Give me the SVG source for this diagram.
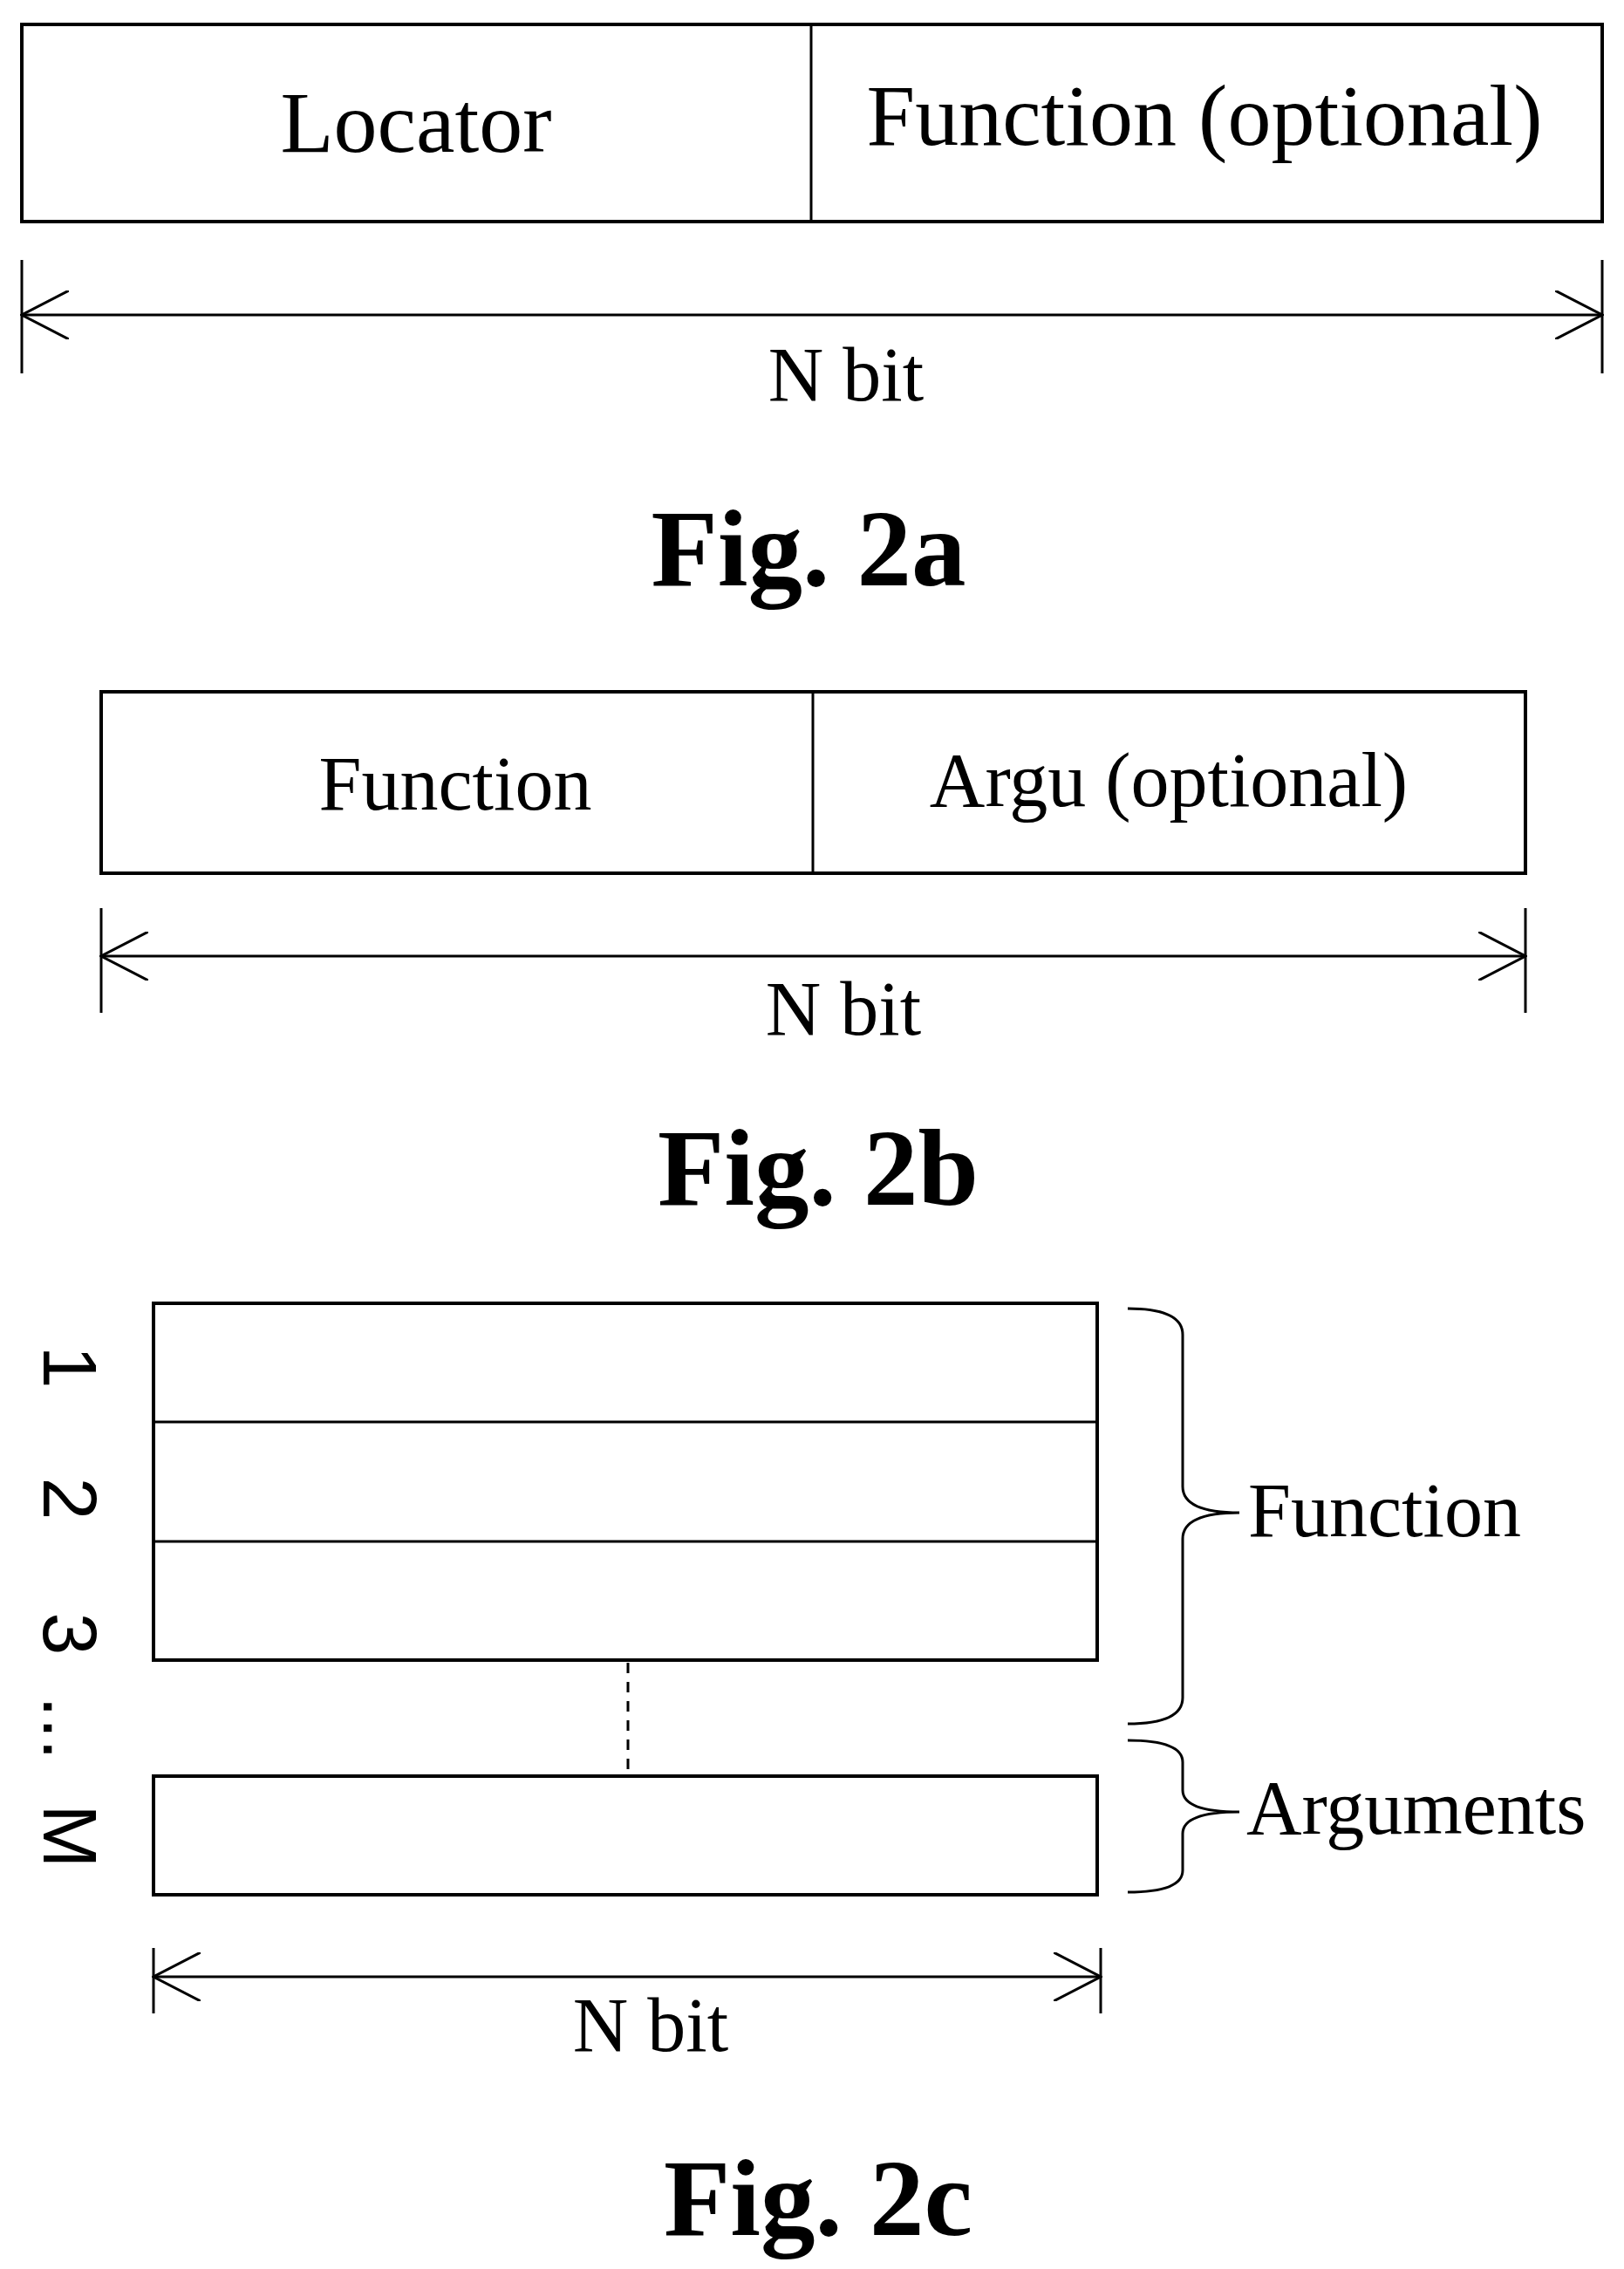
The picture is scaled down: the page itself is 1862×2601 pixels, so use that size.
<svg xmlns="http://www.w3.org/2000/svg" width="1862" height="2601" viewBox="0 0 1862 2601">
<style>
.b{fill:#fff;stroke:#000;stroke-width:4}
.l{stroke:#000;stroke-width:3;fill:none}
.t{font-family:"Liberation Serif",serif;fill:#000}
.s{font-family:"Liberation Sans",sans-serif;fill:#000;font-size:88px}
.f{font-family:"Liberation Serif",serif;font-weight:bold;font-size:125px;text-anchor:middle}
</style>
<defs>
<marker id="a" viewBox="0 0 20 20" refX="19" refY="10" markerWidth="20" markerHeight="20" markerUnits="userSpaceOnUse" orient="auto-start-reverse"><path d="M0,0 L19,10 L0,20" fill="none" stroke="#000" stroke-width="3"/></marker>
<marker id="a2" viewBox="0 0 56 56" refX="54" refY="28" markerWidth="56" markerHeight="56" markerUnits="userSpaceOnUse" orient="auto-start-reverse"><path d="M0,0 L54,28 L0,56" fill="none" stroke="#000" stroke-width="3"/></marker>
</defs>
<g id="fig2a">
<rect class="b" x="25" y="28" width="1812" height="226"/>
<line class="l" x1="930" y1="28" x2="930" y2="254"/>
<text class="t" x="477" y="174" font-size="100" text-anchor="middle">Locator</text>
<text class="t" x="1381" y="166" font-size="100" text-anchor="middle">Function (optional)</text>
<line class="l" x1="25" y1="298" x2="25" y2="428"/>
<line class="l" x1="1837" y1="298" x2="1837" y2="428"/>
<text class="t" x="970" y="459" font-size="88" text-anchor="middle">N bit</text>
<text class="f" x="927" y="671">Fig. 2a</text>
</g>
<g id="fig2b">
<rect class="b" x="116" y="793" width="1633" height="208"/>
<line class="l" x1="932" y1="793" x2="932" y2="1001"/>
<text class="t" x="522" y="928" font-size="88" text-anchor="middle">Function</text>
<text class="t" x="1340" y="924" font-size="88" text-anchor="middle">Argu (optional)</text>
<line class="l" x1="116" y1="1041" x2="116" y2="1161"/>
<line class="l" x1="1749" y1="1041" x2="1749" y2="1161"/>
<text class="t" x="967" y="1186" font-size="88" text-anchor="middle">N bit</text>
<text class="f" x="938" y="1381">Fig. 2b</text>
</g>
<g id="fig2c">
<rect class="b" x="176" y="1494" width="1082" height="409"/>
<line class="l" x1="176" y1="1630" x2="1258" y2="1630"/>
<line class="l" x1="176" y1="1767" x2="1258" y2="1767"/>
<rect class="b" x="176" y="2036" width="1082" height="136"/>
<text class="s" transform="translate(50,1567) rotate(90)" text-anchor="middle">1</text>
<text class="s" transform="translate(50,1718) rotate(90)" text-anchor="middle">2</text>
<text class="s" transform="translate(50,1873) rotate(90)" text-anchor="middle">3</text>
<text class="s" transform="translate(50,1981) rotate(90)" text-anchor="middle">...</text>
<text class="s" transform="translate(50,2105) rotate(90)" text-anchor="middle">M</text>
<path class="l" d="M1293,1500 Q1356,1500 1356,1530 L1356,1704 Q1356,1734 1421,1734 Q1356,1734 1356,1764 L1356,1946 Q1356,1976 1293,1976"/>
<path class="l" d="M1293,1995 Q1356,1995 1356,2020 L1356,2052 Q1356,2077 1421,2077 Q1356,2077 1356,2102 L1356,2144 Q1356,2169 1293,2169"/>
<text class="t" x="1431" y="1761" font-size="88">Function</text>
<text class="t" x="1429" y="2102" font-size="88">Arguments</text>
<line class="l" x1="176" y1="2233" x2="176" y2="2308"/>
<line class="l" x1="1262" y1="2233" x2="1262" y2="2308"/>
<text class="t" x="746" y="2351" font-size="88" text-anchor="middle">N bit</text>
<text class="f" x="938" y="2562">Fig. 2c</text>
</g>
<g id="connectors">
<line class="l" x1="25" y1="361" x2="1837" y2="361" marker-start="url(#a2)" marker-end="url(#a2)"/>
<line class="l" x1="116" y1="1096" x2="1749" y2="1096" marker-start="url(#a2)" marker-end="url(#a2)"/>
<line class="l" x1="720" y1="1906" x2="720" y2="2031" stroke-width="8" stroke-dasharray="12,10"/>
<line class="l" x1="176" y1="2266" x2="1262" y2="2266" marker-start="url(#a)" marker-end="url(#a)" style="marker-start:url(#a2);marker-end:url(#a2)"/>
</g>
</svg>
